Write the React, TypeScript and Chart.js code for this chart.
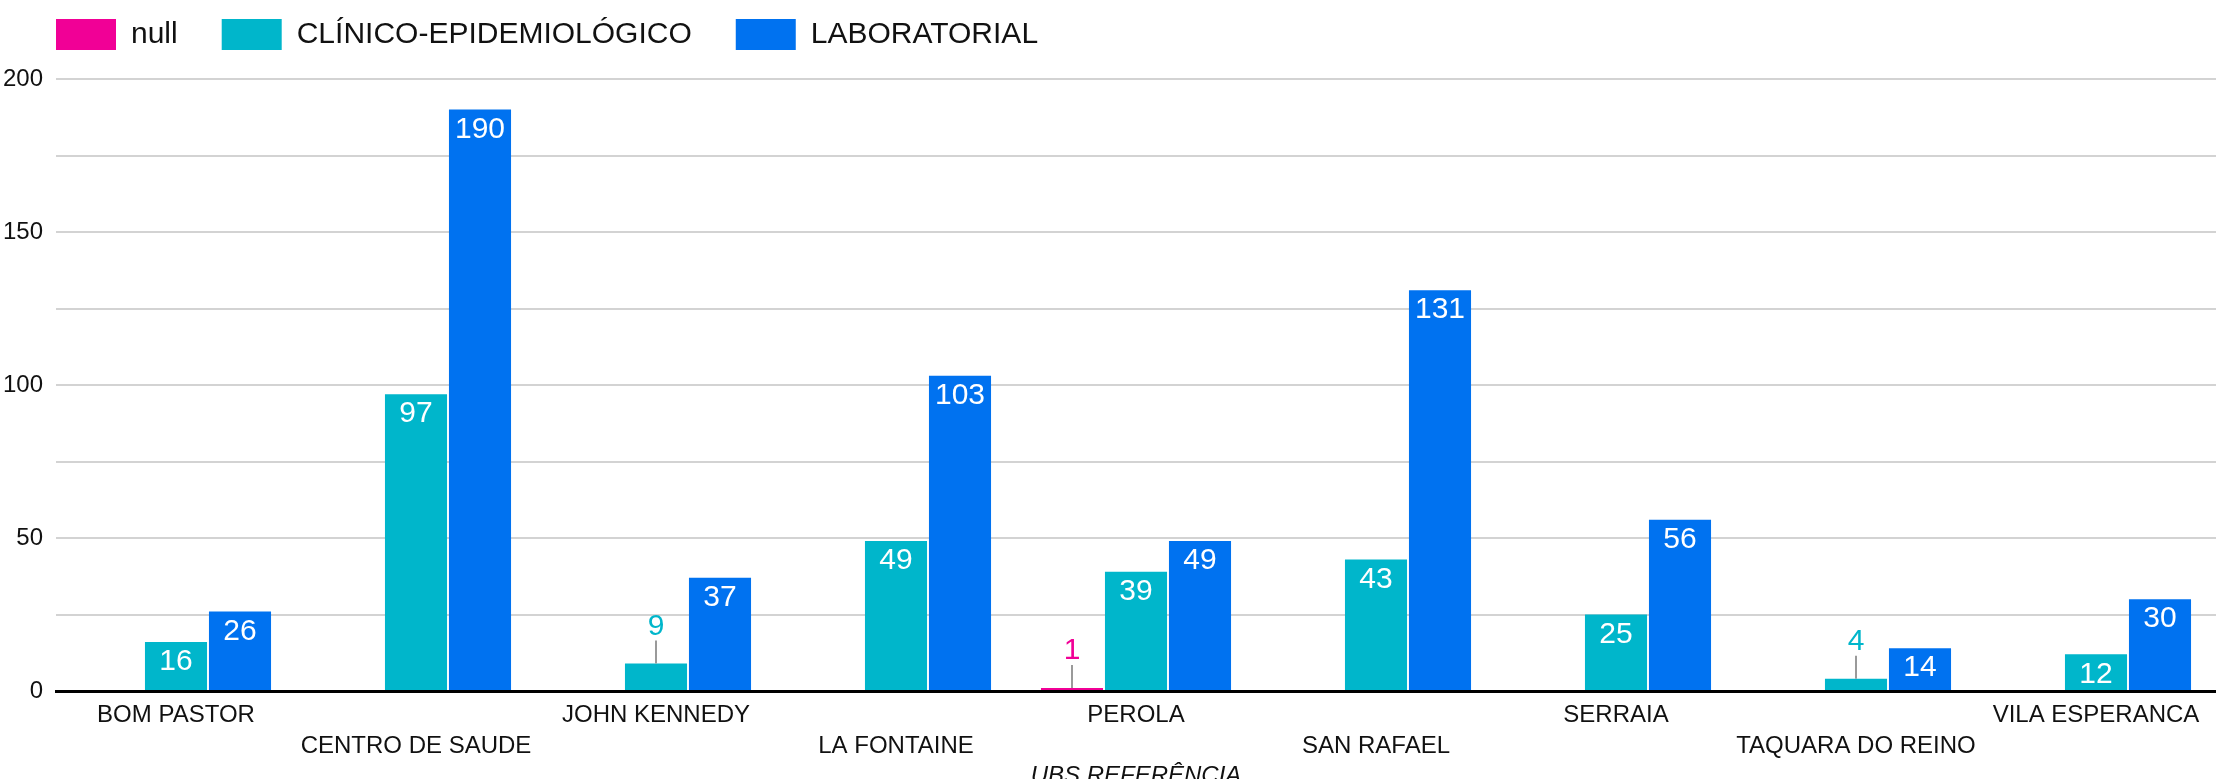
import React, { useEffect, useRef } from 'react';
import { Chart, registerables } from 'chart.js';

Chart.register(...registerables);

const categories = [
  'BOM PASTOR',
  'CENTRO DE SAUDE',
  'JOHN KENNEDY',
  'LA FONTAINE',
  'PEROLA',
  'SAN RAFAEL',
  'SERRAIA',
  'TAQUARA DO REINO',
  'VILA ESPERANCA',
];
const nullValues = [null, null, null, null, 1, null, null, null, null];
const clinicoValues = [16, 97, 9, 49, 39, 43, 25, 4, 12];
const laboratorialValues = [26, 190, 37, 103, 49, 131, 56, 14, 30];
const seriesNames = ['null', 'CLÍNICO-EPIDEMIOLÓGICO', 'LABORATORIAL'];
const seriesColors = ['#f10096', '#00b6cb', '#0072f0'];
const yLabelTicks = [0, 50, 100, 150, 200];
const xTitle = 'UBS REFERÊNCIA';

const FONT = '"Liberation Sans", Arial, Helvetica, sans-serif';
const W = 2216;
const H = 791;
const PLOT_LEFT = 56;
const PLOT_TOP = 79;
const PLOT_BOTTOM = 691;

const dataLabels = {
  id: 'dataLabels',
  afterDatasetsDraw(chart: any) {
    const ctx = chart.ctx;
    ctx.save();
    ctx.font = `30px ${FONT}`;
    ctx.textAlign = 'center';
    ctx.textBaseline = 'middle';
    chart.data.datasets.forEach((ds: any, di: number) => {
      const meta = chart.getDatasetMeta(di);
      meta.data.forEach((bar: any, i: number) => {
        const v = ds.data[i];
        if (v == null) return;
        const { x, y } = bar.getProps(['x', 'y'], true);
        if (v >= 10) {
          ctx.fillStyle = '#ffffff';
          ctx.fillText(String(v), x, y + 20);
        } else {
          ctx.strokeStyle = '#9a9a9a';
          ctx.lineWidth = 2;
          ctx.beginPath();
          ctx.moveTo(x, y);
          ctx.lineTo(x, y - 23);
          ctx.stroke();
          ctx.fillStyle = ds.backgroundColor;
          ctx.fillText(String(v), x, y - 37);
        }
      });
    });
    ctx.restore();
  },
};

const legendShift = {
  id: 'legendShift',
  afterLayout(chart: any) {
    const lg = chart.legend;
    if (lg) {
      const h = lg.bottom - lg.top;
      lg.left = PLOT_LEFT - 19;
      lg.top = 0;
      lg.bottom = h;
    }
  },
};

export default function App() {
  const canvasRef = useRef<HTMLCanvasElement | null>(null);

  useEffect(() => {
    document.body.style.margin = '0';
    document.documentElement.style.overflow = 'hidden';
    document.body.style.overflow = 'hidden';
    const canvas = canvasRef.current;
    if (!canvas) return;
    const valueSets = [nullValues, clinicoValues, laboratorialValues];
    const chart = new Chart(canvas, {
      type: 'bar',
      data: {
        labels: categories,
        datasets: seriesNames.map((name, k) => ({
          label: name,
          data: valueSets[k] as any,
          backgroundColor: seriesColors[k],
          borderWidth: 0,
          categoryPercentage: 0.8,
          barPercentage: 0.97,
        })),
      },
      options: {
        responsive: false,
        animation: false,
        devicePixelRatio: 1,
        layout: { padding: { left: 0, right: 0, top: 0, bottom: 0 } },
        plugins: {
          tooltip: { enabled: false },
          legend: {
            position: 'top',
            align: 'start',
            labels: {
              boxWidth: 60,
              boxHeight: 31,
              padding: 19,
              color: '#111111',
              font: { family: FONT, size: 30 },
              generateLabels: (c: any) =>
                Chart.defaults.plugins.legend.labels
                  .generateLabels(c)
                  .map((l: any) => ({ ...l, text: l.text + '   ' })),
            },
          },
        },
        scales: {
          x: {
            grid: { display: false, drawTicks: false },
            border: { display: true, color: '#000000', width: 3 },
            ticks: {
              autoSkip: false,
              maxRotation: 0,
              minRotation: 0,
              padding: 9,
              color: '#111111',
              font: { family: FONT, size: 24, lineHeight: 1.3 },
              callback: (_v: any, i: number) =>
                i % 2 === 1 ? ['', categories[i]] : categories[i],
            },
            title: {
              display: true,
              text: xTitle,
              color: '#111111',
              font: { family: FONT, size: 24, style: 'italic', lineHeight: 1.2 },
              padding: { top: 0, bottom: 0 },
            },
            afterFit: (scale: any) => {
              scale.height = H - PLOT_BOTTOM;
            },
          },
          y: {
            min: 0,
            max: 200,
            border: { display: false },
            grid: { color: '#d3d3d3', lineWidth: 2, drawTicks: false },
            ticks: {
              stepSize: 25,
              padding: 13,
              color: '#111111',
              font: { family: FONT, size: 24 },
              callback: (v: any) => (yLabelTicks.includes(Number(v)) ? String(v) : ''),
            },
            afterFit: (scale: any) => {
              scale.width = PLOT_LEFT;
              scale.paddingTop = PLOT_TOP;
            },
          },
        },
      },
      plugins: [dataLabels, legendShift],
    } as any);
    return () => chart.destroy();
  }, []);

  return (
    <div style={{ width: W, height: H, position: 'relative' }}>
      <canvas ref={canvasRef} width={W} height={H} style={{ display: 'block' }} />
    </div>
  );
}
